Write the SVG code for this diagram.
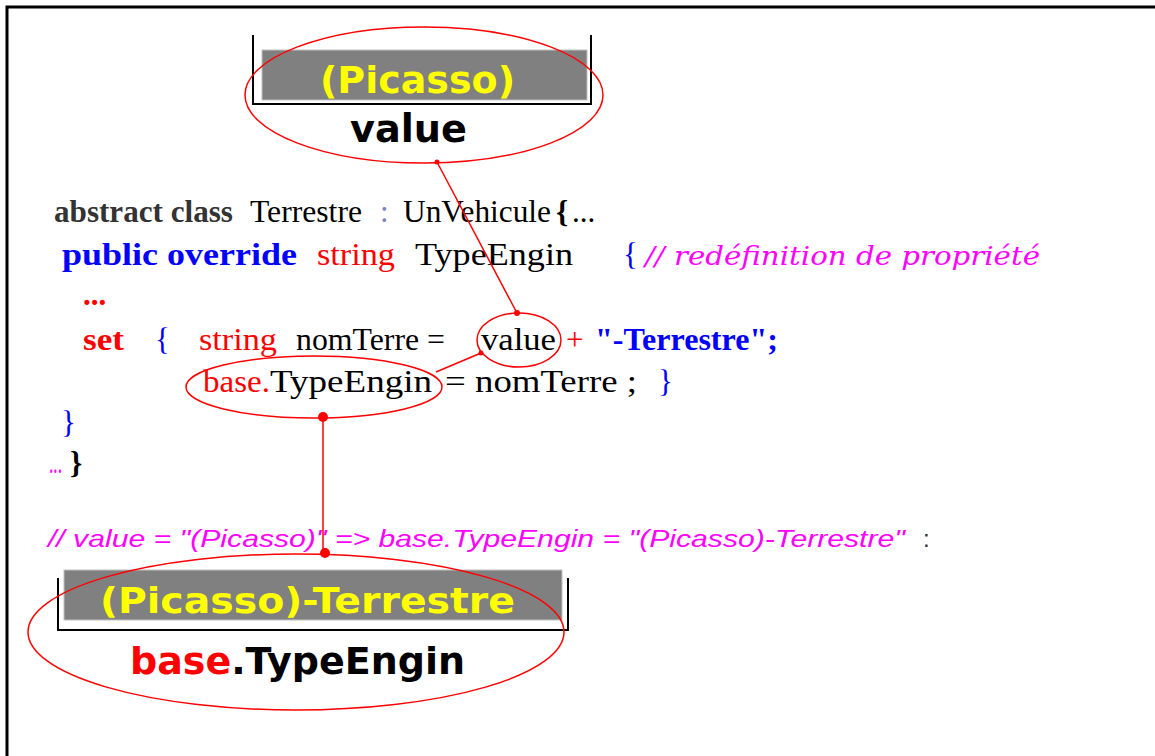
<svg xmlns="http://www.w3.org/2000/svg" width="1155" height="756" viewBox="0 0 1155 756">
<style>
.code{font-family:"Liberation Serif","Times New Roman",serif;font-size:31px}
.b{font-weight:bold}
.blue{fill:#0000ff}
.red{fill:#ff0000}
.blk{fill:#000}
.mag{fill:#ff00ff}
.sans{font-family:"DejaVu Sans","Verdana",sans-serif;font-weight:bold}
.ell{fill:none;stroke:#ff0000;stroke-width:1.5}
.conn{stroke:#ff0000;stroke-width:1.5;fill:none}
.brk{fill:none;stroke:#000;stroke-width:2}
</style>
<rect width="1155" height="756" fill="#fff"/>
<path d="M7,756 V7 H1155" fill="none" stroke="#000" stroke-width="3"/>

<g id="node-value">
<path class="brk" d="M253,35 V104 H591 V35"/>
<rect x="262" y="50" width="325" height="50" fill="#808080" stroke="#c0c0c0" stroke-width="1"/>
<text class="sans" x="320" y="93" font-size="38" fill="#ffff00" textLength="195" lengthAdjust="spacingAndGlyphs">(Picasso)</text>
<text class="sans" x="350" y="142" font-size="39" fill="#000" textLength="117" lengthAdjust="spacingAndGlyphs">value</text>
<ellipse class="ell" cx="424" cy="95" rx="179" ry="68"/>
</g>

<g id="code">
<text class="code b" x="54" y="222" font-size="22" fill="#333" textLength="179" lengthAdjust="spacingAndGlyphs">abstract class</text>
<text class="code blk" x="250" y="222" font-size="22" textLength="112" lengthAdjust="spacingAndGlyphs">Terrestre</text>
<text class="code" x="380" y="222" font-size="22" fill="#8080c0">:</text>
<text class="code blk" x="403" y="222" font-size="22" textLength="148" lengthAdjust="spacingAndGlyphs">UnVehicule</text>
<text class="code blk b" x="556" y="222" font-size="22">{</text>
<text class="code blk" x="572" y="222" font-size="22">...</text>

<text class="code b blue" x="62" y="265" textLength="235" lengthAdjust="spacingAndGlyphs">public override</text>
<text class="code red" x="317" y="265" textLength="78" lengthAdjust="spacingAndGlyphs">string</text>
<text class="code blk" x="415" y="265" textLength="158" lengthAdjust="spacingAndGlyphs">TypeEngin</text>
<text class="code blue" x="623" y="265">{</text>
<text x="645" y="265" font-family="DejaVu Serif,serif" font-style="italic" font-size="26" class="mag" textLength="395" lengthAdjust="spacingAndGlyphs">// redéfinition de propriété</text>

<text class="code b red" x="83" y="305">...</text>

<text class="code b red" x="83" y="350" textLength="41" lengthAdjust="spacingAndGlyphs">set</text>
<text class="code blue" x="155" y="350">{</text>
<text class="code red" x="199" y="350" textLength="78" lengthAdjust="spacingAndGlyphs">string</text>
<text class="code blk" x="296" y="350" textLength="149" lengthAdjust="spacingAndGlyphs">nomTerre =</text>
<text class="code blk" x="481" y="350" textLength="75" lengthAdjust="spacingAndGlyphs">value</text>
<text class="code red" x="566" y="350">+</text>
<text class="code b blue" x="595" y="350" textLength="183" lengthAdjust="spacingAndGlyphs">"-Terrestre";</text>

<text class="code red" x="203" y="392" textLength="67" lengthAdjust="spacingAndGlyphs">base.</text>
<text class="code blk" x="270" y="392" textLength="162" lengthAdjust="spacingAndGlyphs">TypeEngin</text>
<text class="code blk" x="445" y="392" textLength="192" lengthAdjust="spacingAndGlyphs">= nomTerre ;</text>
<text class="code blue" x="658" y="392">}</text>

<text class="code blue" x="61" y="433">}</text>
<text class="code mag" x="49" y="473" font-size="24" textLength="13" lengthAdjust="spacingAndGlyphs">...</text>
<text class="code blk b" x="70" y="473" font-size="24">}</text>

<text x="48" y="547" font-family="Liberation Sans,Arial,sans-serif" font-style="italic" font-size="24" class="mag" textLength="857" lengthAdjust="spacingAndGlyphs">// value = "(Picasso)" =&gt; base.TypeEngin = "(Picasso)-Terrestre"</text>
<text x="923" y="547" font-family="Liberation Sans,Arial,sans-serif" font-size="24" fill="#333">:</text>
</g>

<g id="node-small">
<ellipse class="ell" cx="519" cy="340" rx="42" ry="27"/>
<ellipse class="ell" cx="314" cy="387" rx="128" ry="31"/>
</g>

<g id="node-base">
<path class="brk" d="M58,578 V630 H568 V578"/>
<rect x="64" y="570" width="498" height="50" fill="#808080" stroke="#c0c0c0" stroke-width="1"/>
<text class="sans" x="100" y="613" font-size="36" fill="#ffff00" textLength="415" lengthAdjust="spacingAndGlyphs">(Picasso)-Terrestre</text>
<text class="sans" x="130" y="674" font-size="38" textLength="335" lengthAdjust="spacingAndGlyphs"><tspan fill="#ff0000">base</tspan><tspan fill="#000">.TypeEngin</tspan></text>
<ellipse class="ell" cx="296" cy="632" rx="268" ry="78"/>
</g>

<g id="connectors">
<line class="conn" x1="437" y1="162" x2="517" y2="313"/>
<circle cx="437" cy="162" r="2.5" fill="#ff0000"/>
<circle cx="517" cy="313" r="3" fill="#ff0000"/>
<line class="conn" x1="436" y1="372" x2="481" y2="353"/>
<circle cx="481" cy="353" r="2.5" fill="#ff0000"/>
<line class="conn" x1="323" y1="417" x2="323" y2="554"/>
<circle cx="323" cy="417" r="5" fill="#ff0000"/>
<circle cx="325" cy="553" r="5" fill="#ff0000"/>
</g>
</svg>
